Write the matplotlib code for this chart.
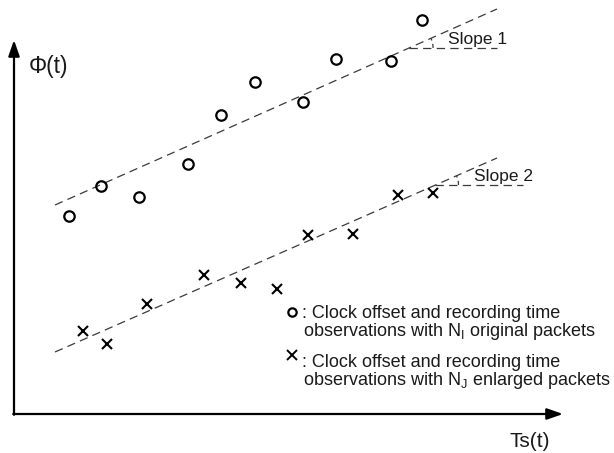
import matplotlib
matplotlib.use("Agg")
import matplotlib.pyplot as plt
from matplotlib.patches import Arc
import numpy as np

plt.rcParams['font.family'] = ['Liberation Sans', 'DejaVu Sans']
plt.rcParams['mathtext.fontset'] = 'custom'
plt.rcParams['mathtext.rm'] = 'Liberation Sans'
plt.rcParams['lines.scale_dashes'] = False

# Data (schematic units: pixel-like coordinates, y up)
circle_x = [69, 101, 139, 188, 221, 255, 303, 336, 391, 422]
circle_y = [237, 267, 256, 289, 338, 371, 351, 394, 392, 433]
cross_x = [83, 107, 147, 204, 241, 277, 308, 353, 398, 433]
cross_y = [122, 109, 149, 178, 170, 164, 218, 219, 258, 260]

trend_x = [55, 497]
trend1_y = [248, 444]
trend2_y = [101, 295]

slope_labels = ["Slope 1", "Slope 2"]
legend_lines = [": Clock offset and recording time",
                r"observations with N$_\mathregular{I}$ original packets",
                ": Clock offset and recording time",
                r"observations with N$_\mathregular{J}$ enlarged packets"]
axis_labels = ["\u03a6(t)", "Ts(t)"]

fig = plt.figure(figsize=(6.14, 4.53), dpi=100)
ax = fig.add_axes([0, 0, 1, 1])
ax.set_xlim(0, 614)
ax.set_ylim(0, 453)
ax.axis('off')

dash = (0, (6, 3.8))
lc = '#3a3a3a'
tc = '#1a1a1a'

# trend lines
for ty in (trend1_y, trend2_y):
    ax.plot(trend_x, ty, color=lc, lw=0.9, linestyle=dash)

# slope annotations
def slope_mark(tx, ty, y0, x_end, r, label, lx, ly):
    m = (ty[1] - ty[0]) / (tx[1] - tx[0])
    x0 = tx[0] + (y0 - ty[0]) / m
    ax.plot([x0, x_end], [y0, y0], color=lc, lw=0.9, linestyle=dash)
    ang = np.degrees(np.arctan(m))
    ax.add_patch(Arc((x0, y0), 2 * r, 2 * r, theta1=0, theta2=ang,
                     color=lc, lw=0.9, linestyle=(0, (3, 2.5))))
    ax.text(lx, ly, label, fontsize=12.5, ha='left', va='baseline', color=tc)

slope_mark(trend_x, trend1_y, 405, 497, 24, slope_labels[0], 448, 409)
slope_mark(trend_x, trend2_y, 268, 523, 23, slope_labels[1], 474, 272)

# points
ax.plot(circle_x, circle_y, 'o', ms=7.5, mfc='none', mec='black', mew=1.6)
ax.plot(cross_x, cross_y, 'x', ms=7.5, mec='black', mew=1.5)

# axes with arrows
ap = dict(arrowstyle='-|>,head_length=0.8,head_width=0.28', mutation_scale=12,
          lw=1.6, color='black', shrinkA=0, shrinkB=0)
ax.annotate("", xy=(14, 413), xytext=(14, 38.2), arrowprops=ap)
ax.annotate("", xy=(563, 39), xytext=(13.2, 39), arrowprops=ap)
ax.text(29, 380, axis_labels[0], fontsize=16.5, ha='left', va='baseline', color=tc)
ax.text(509, 6, axis_labels[1], fontsize=15, ha='left', va='baseline', color=tc)

# legend
ax.plot([291.5], [141], 'o', ms=6, mfc='none', mec='black', mew=1.6)
ax.plot([292], [98], 'x', ms=6.5, mec='black', mew=1.4)
ax.text(302, 135, legend_lines[0], fontsize=13, ha='left', va='baseline', color=tc)
ax.text(303, 117, legend_lines[1], fontsize=13, ha='left', va='baseline', color=tc)
ax.text(302, 86, legend_lines[2], fontsize=13, ha='left', va='baseline', color=tc)
ax.text(303, 68, legend_lines[3], fontsize=13, ha='left', va='baseline', color=tc)

fig.savefig("out.png", dpi=100)
